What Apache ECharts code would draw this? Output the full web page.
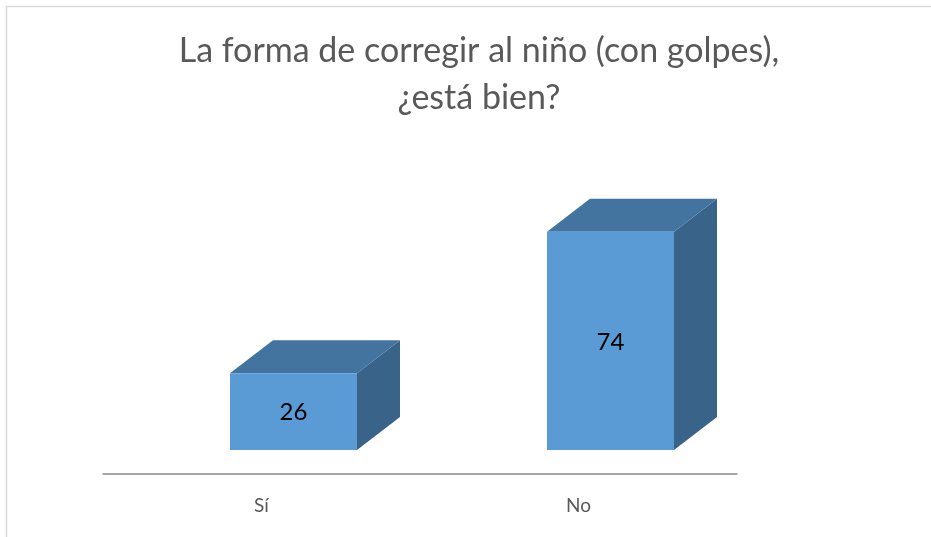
<!DOCTYPE html>
<html>
<head>
<meta charset="utf-8">
<script src="https://cdn.jsdelivr.net/npm/echarts@6/dist/echarts.min.js"></script>
<style>
  html, body { margin: 0; padding: 0; background: #fff; }
  #chart { width: 931px; height: 537px; }
</style>
</head>
<body>
<div id="chart"></div>
<script>
const titleText = "La forma de corregir al niño (con golpes),\n¿está bien?";
const categories = ["Sí", "No"];
const values = [26, 74];

const chart = echarts.init(document.getElementById("chart"));

// 3d box look
const depthX = 43, depthY = 33;
const floorX = 32, floorY = 24;
const halfW = 63.5;

function renderBox(params, api) {
  const idx = api.value(0);
  const base = api.coord([idx, 0]);
  const top = api.coord([idx, api.value(1)]);
  const x0 = base[0] + floorX - halfW;
  const x1 = base[0] + floorX + halfW;
  const yb = base[1] - floorY;
  const yt = top[1] - floorY;
  return {
    type: "group",
    children: [
      {
        type: "polygon",
        shape: { points: [[x1, yt], [x1 + depthX, yt - depthY], [x1 + depthX, yb - depthY], [x1, yb]] },
        style: { fill: "#396389" }
      },
      {
        type: "polygon",
        shape: { points: [[x0, yt], [x0 + depthX, yt - depthY], [x1 + depthX, yt - depthY], [x1, yt]] },
        style: { fill: "#43749F" }
      },
      {
        type: "rect",
        shape: { x: x0, y: yt, width: x1 - x0, height: yb - yt },
        style: { fill: "#5B9BD5" }
      },
      {
        type: "text",
        x: (x0 + x1) / 2,
        y: (yt + yb) / 2 + 1,
        style: {
          text: String(api.value(1)),
          fill: "#000",
          fontSize: 24,
          fontFamily: "Lato",
          align: "center",
          verticalAlign: "middle"
        }
      }
    ]
  };
}

const option = {
  animation: false,
  title: {
    text: titleText,
    left: 474,
    textAlign: "center",
    top: 23,
    textStyle: {
      color: "#595959",
      fontSize: 34,
      fontWeight: "normal",
      fontFamily: "Lato",
      lineHeight: 47
    }
  },
  graphic: [
    {
      type: "rect",
      shape: { x: 6.5, y: 6.5, width: 1000, height: 1000 },
      style: { fill: "none", stroke: "#d9d9d9", lineWidth: 1.5 },
      silent: true
    }
  ],
  grid: { left: 103, right: 194, top: 179, bottom: 63 },
  xAxis: {
    type: "category",
    data: categories,
    axisTick: { show: false },
    axisLine: { lineStyle: { color: "#898989", width: 1.5 } },
    axisLabel: { color: "#595959", fontSize: 19, fontFamily: "Lato", margin: 22 }
  },
  yAxis: {
    type: "value",
    min: 0,
    max: 100,
    show: false,
    splitLine: { show: false }
  },
  series: [
    {
      type: "custom",
      renderItem: renderBox,
      data: values.map((v, i) => [i, v]),
      encode: { x: 0, y: 1 }
    }
  ]
};

chart.setOption(option);
</script>
</body>
</html>
